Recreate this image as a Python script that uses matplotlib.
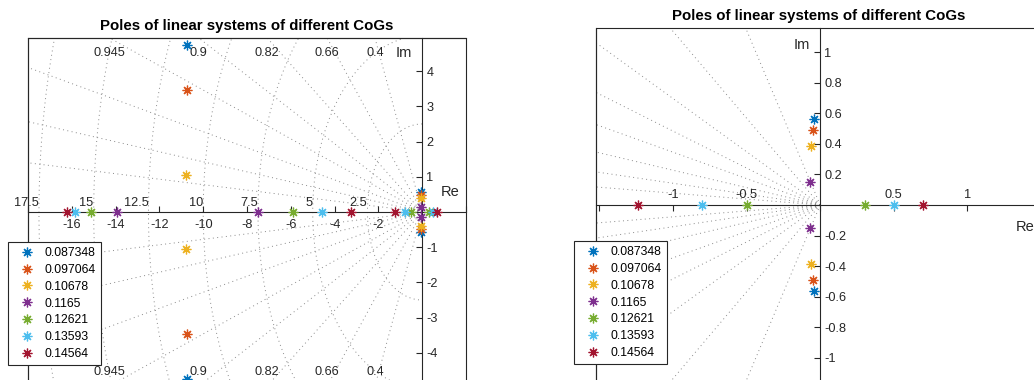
import numpy as np
import matplotlib.pyplot as plt
from matplotlib.patches import Rectangle

plt.rcParams['font.family'] = ['Liberation Sans', 'DejaVu Sans']

# centre of gravity of each linear system (legend entries)
cog_labels = ['0.087348', '0.097064', '0.10678', '0.1165', '0.12621', '0.13593', '0.14564']
colors = ['#0072BD', '#D95319', '#EDB120', '#7E2F8E', '#77AC30', '#4DBEEE', '#A2142F']

# poles of each system, real and imaginary parts
pole_re = [
    [-10.72, -10.72, -0.040, -0.040],
    [-10.75, -10.75, -0.047, -0.047],
    [-10.80, -10.80, -0.060, -0.060],
    [-13.94, -7.50, -0.072, -0.072],
    [-15.13, -5.90, -0.497, 0.302],
    [-15.86, -4.57, -0.805, 0.503],
    [-16.23, -3.25, -1.235, 0.698],
]
pole_im = [
    [4.74, -4.74, 0.565, -0.565],
    [3.47, -3.47, 0.490, -0.490],
    [1.05, -1.05, 0.385, -0.385],
    [0.0, 0.0, 0.148, -0.148],
    [0.0, 0.0, 0.0, 0.0],
    [0.0, 0.0, 0.0, 0.0],
    [0.0, 0.0, 0.0, 0.0],
]

# s-plane grid (damping ratios and natural frequencies)
zeta_lines = [0.4, 0.66, 0.82, 0.9, 0.945, 0.975, 0.99, 0.997]
wn_circles = [2.5, 5, 7.5, 10, 12.5, 15, 17.5]
wn_text = ['2.5', '5', '7.5', '10', '12.5', '15', '17.5']

# axis ticks
left_xticks = [-18, -16, -14, -12, -10, -8, -6, -4, -2, 0, 2]
left_xlabels = ['', '-16', '-14', '-12', '-10', '-8', '-6', '-4', '-2', '', '']
left_yticks = [-4, -3, -2, -1, 0, 1, 2, 3, 4]
left_ylabels = ['-4', '-3', '-2', '-1', '', '1', '2', '3', '4']
right_xticks = [-1.5, -1, -0.5, 0, 0.5, 1, 1.5]
right_xlabels = ['', '-1', '-0.5', '', '0.5', '1', '']
right_yticks = [-1, -0.8, -0.6, -0.4, -0.2, 0, 0.2, 0.4, 0.6, 0.8, 1]
right_ylabels = ['-1', '-0.8', '-0.6', '-0.4', '-0.2', '', '0.2', '0.4', '0.6', '0.8', '1']

dark = '#262626'
grid_c = '#8a8a8a'
tick_fs = 9.2
lab_fs = 10.5


def sgrid(ax, with_labels):
    r = np.array([0, 80])
    for z in zeta_lines:
        s = np.sqrt(1 - z ** 2)
        for sign in (1, -1):
            ax.plot(-z * r, sign * s * r, ls=(0, (1, 3.5)), lw=0.7, color=grid_c, zorder=1)
    th = np.linspace(np.pi / 2, 3 * np.pi / 2, 600)
    for w in wn_circles:
        ax.plot(w * np.cos(th), w * np.sin(th), ls=(0, (1, 3.5)), lw=0.7, color=grid_c, zorder=1)
    if not with_labels:
        return
    x0 = ax.get_xlim()[0]
    top = ax.get_ylim()[1]
    for z in zeta_lines:
        xi = -top * z / np.sqrt(1 - z ** 2)
        if xi > x0:
            ax.annotate(f'{z:g}', (xi, top), xytext=(0, -10.8), textcoords='offset points',
                        ha='center', va='center', fontsize=tick_fs, color=dark)
            ax.annotate(f'{z:g}', (xi, -top), xytext=(0, 10.0), textcoords='offset points',
                        ha='center', va='center', fontsize=tick_fs, color=dark)
    for w, t in zip(wn_circles, wn_text):
        ax.annotate(t, (-w, 0), xytext=(0, 2), textcoords='offset points',
                    ha='right', va='bottom', fontsize=tick_fs, color=dark)


def panel(ax, xlim, ylim, xt, xl, yt, yl, labels_above, with_labels, re_off, im_off, leg_xy):
    ax.set_xlim(xlim)
    ax.set_ylim(ylim)
    sgrid(ax, with_labels)
    for re, im, c, lab in zip(pole_re, pole_im, colors, cog_labels):
        ax.plot(re, im, ls='none', marker=(8, 2, 0), ms=7, mew=0.9, color=c, label=lab, zorder=3)

    for sp in ax.spines.values():
        sp.set_color(dark)
        sp.set_linewidth(0.8)
    # y axis through the origin, labels on its right
    ax.spines['right'].set_position(('data', 0))
    ax.yaxis.set_ticks_position('right')
    ax.set_yticks(yt)
    ax.set_yticklabels(yl)
    ax.tick_params(axis='y', direction='in', length=4, pad=3, labelsize=tick_fs, colors=dark)
    if labels_above:
        ax.spines['top'].set_position(('data', 0))
        ax.xaxis.set_ticks_position('top')
        pad = 3
    else:
        ax.spines['bottom'].set_position(('data', 0))
        ax.xaxis.set_ticks_position('bottom')
        pad = 5
    ax.set_xticks(xt)
    ax.set_xticklabels(xl)
    ax.tick_params(axis='x', direction='in', length=4, pad=pad, labelsize=tick_fs, colors=dark)
    ax.add_patch(Rectangle((0, 0), 1, 1, transform=ax.transAxes, fill=False,
                           ec=dark, lw=0.8, clip_on=False, zorder=5))

    ax.annotate('Re', (1, 0), xycoords=('axes fraction', 'data'), xytext=re_off,
                textcoords='offset points', ha='right', va='center', fontsize=lab_fs, color=dark)
    ax.annotate('Im', (0, 1), xycoords=('data', 'axes fraction'), xytext=im_off,
                textcoords='offset points', ha='right', va='center', fontsize=lab_fs, color=dark)
    ax.set_title('Poles of linear systems of different CoGs', fontsize=10.8,
                 fontweight='bold', pad=5.5, color='black')
    leg = ax.legend(loc='upper left', bbox_to_anchor=leg_xy, bbox_transform=ax.figure.transFigure,
                    fontsize=8.8, frameon=True, fancybox=False, framealpha=1, edgecolor=dark,
                    borderaxespad=0, borderpad=0.4, handlelength=2.3, handletextpad=0.3,
                    labelspacing=0.4)
    leg.get_frame().set_linewidth(0.8)


fig = plt.figure(figsize=(10.34, 3.80), dpi=100)
ax1 = fig.add_axes([28 / 1034, -6 / 380, 438 / 1034, 348 / 380])
ax2 = fig.add_axes([596 / 1034, -2 / 380, 445 / 1034, 354 / 380])

panel(ax1, (-18, 2), (-4.94, 4.94), left_xticks, left_xlabels, left_yticks, left_ylabels,
      False, True, (-5, 14.4), (-7.2, -10.8), (8 / 1034, 1 - 242 / 380))
panel(ax2, (-1.523, 1.462), (-1.16, 1.16), right_xticks, right_xlabels, right_yticks, right_ylabels,
      True, False, (-5, -15.8), (-7.2, -12.2), (574 / 1034, 1 - 241 / 380))

fig.savefig('out.png', dpi=100)
